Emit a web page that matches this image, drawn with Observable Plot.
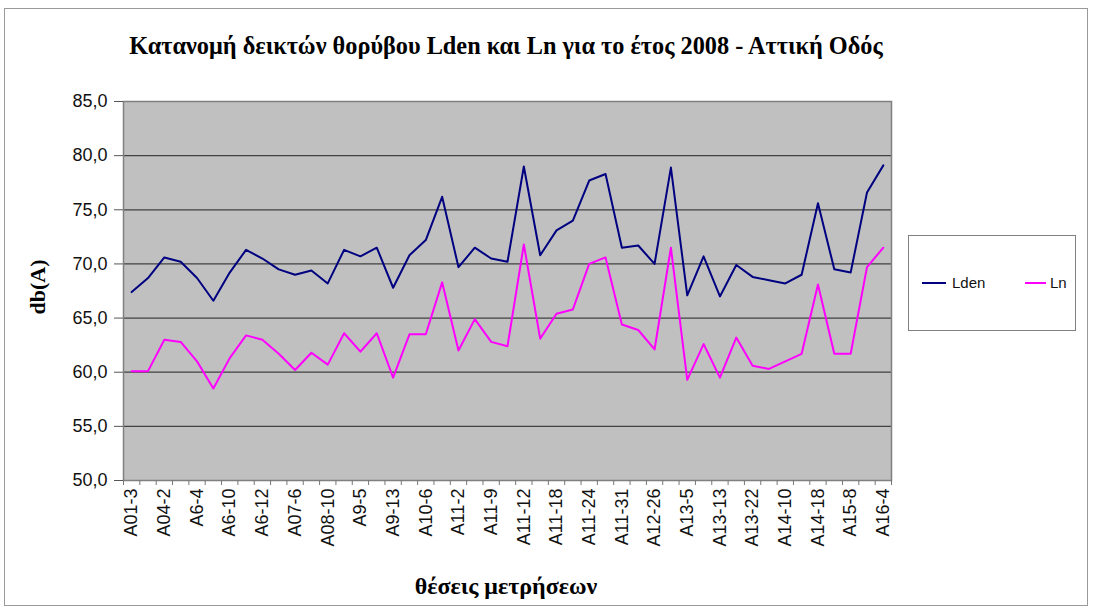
<!DOCTYPE html>
<html>
<head>
<meta charset="utf-8">
<script src="https://cdn.jsdelivr.net/npm/d3@7"></script>
<script src="https://cdn.jsdelivr.net/npm/@observablehq/plot@0.6"></script>
<style>
  html, body { margin: 0; padding: 0; background: #fff; }
  #wrap { position: relative; width: 1093px; height: 612px; overflow: hidden; }
  #chart { position: absolute; left: 0; top: 0; }
  #border { position: absolute; left: 4px; top: 8px; width: 1084px; height: 598px; border: 1px solid #9a9a9a; box-sizing: border-box; }
  .serif { font-family: "Liberation Serif", "Times New Roman", serif; font-weight: bold; color: #000; position: absolute; white-space: nowrap; }
  #title { left: 0; width: 1012px; top: 32px; text-align: center; font-size: 24.3px; }
  #ytitle { left: 38px; top: 287px; font-size: 22px; transform: translate(-50%, -50%) rotate(-90deg); }
  #xtitle { left: 0; width: 1012px; top: 573px; text-align: center; font-size: 24px; }
  #legend { position: absolute; left: 908px; top: 235px; }
</style>
</head>
<body>
<div id="wrap">
  <div id="border"></div>
  <div id="chart"></div>
  <div id="title" class="serif">Κατανομή δεικτών θορύβου Lden και Ln για το έτος 2008 - Αττική Οδός</div>
  <div id="ytitle" class="serif">db(A)</div>
  <div id="xtitle" class="serif">θέσεις μετρήσεων</div>
  <div id="legend"></div>
</div>
<script>
// Tick labels shown on the category axis (every second measurement position)
const siteLabels = ["A01-3", "A04-2", "A6-4", "A6-10", "A6-12", "A07-6", "A08-10", "A9-5", "A9-13", "A10-6", "A11-2", "A11-9",
  "A11-12", "A11-18", "A11-24", "A11-31", "A12-26", "A13-5", "A13-13", "A13-22", "A14-10", "A14-18", "A15-8", "A16-4"];

// Series values, one per measurement position (47 positions)
const lden = [67.4, 68.7, 70.6, 70.2, 68.7, 66.6, 69.2, 71.3, 70.5, 69.5, 69.0, 69.4,
  68.2, 71.3, 70.7, 71.5, 67.8, 70.8, 72.2, 76.2, 69.7, 71.5, 70.5, 70.2,
  79.0, 70.8, 73.1, 74.0, 77.7, 78.3, 71.5, 71.7, 70.0, 78.9, 67.1, 70.7,
  67.0, 69.9, 68.8, 68.5, 68.2, 69.0, 75.6, 69.5, 69.2, 76.6, 79.1];
const ln = [60.1, 60.1, 63.0, 62.8, 61.0, 58.5, 61.3, 63.4, 63.0, 61.7, 60.2, 61.8,
  60.7, 63.6, 61.9, 63.6, 59.5, 63.5, 63.5, 68.3, 62.0, 64.9, 62.8, 62.4,
  71.8, 63.1, 65.4, 65.8, 70.0, 70.6, 64.4, 63.9, 62.1, 71.5, 59.3, 62.6,
  59.5, 63.2, 60.6, 60.3, 61.0, 61.7, 68.1, 61.7, 61.7, 69.7, 71.5];

const seriesNames = ["Lden", "Ln"];
const seriesColors = ["#000080", "#ff00ff"];
const yTicks = [50, 55, 60, 65, 70, 75, 80, 85];

const n = lden.length;
const idx = d3.range(n);

const chart = Plot.plot({
  width: 1093,
  height: 612,
  marginLeft: 123,
  marginRight: 202,
  marginTop: 101,
  marginBottom: 132,
  style: { fontFamily: "'Liberation Sans', Arial, sans-serif", fontSize: "18px", color: "#000", background: "transparent" },
  x: { type: "linear", domain: [-0.5, n - 0.5], axis: null },
  y: { domain: [50, 85], axis: null },
  marks: [
    Plot.frame({ fill: "#c0c0c0", stroke: "none" }),
    Plot.gridY(yTicks.slice(1, -1), { stroke: "#222", strokeOpacity: 0.8, strokeWidth: 1.3 }),
    Plot.frame({ stroke: "#808080", strokeWidth: 1.5 }),
    Plot.axisY(yTicks, { tickSize: 9, tickPadding: 7, stroke: "#555", tickFormat: d => d.toFixed(1).replace(".", ","), fill: "#111" }),
    Plot.axisX(d3.range(-0.5, n, 1), { tickSize: 5, stroke: "#777", tickFormat: () => "" }),
    Plot.axisX(d3.range(0, n, 2), { tickSize: 0, tickPadding: 8, tickRotate: -90, tickFormat: i => siteLabels[i / 2], fill: "#111" }),
    Plot.lineY(lden, { x: idx, y: lden, stroke: seriesColors[0], strokeWidth: 2 }),
    Plot.lineY(ln, { x: idx, y: ln, stroke: seriesColors[1], strokeWidth: 2 })
  ]
});
document.getElementById("chart").appendChild(chart);

// Legend (SVG box)
const swX = [14, 117], swW = [24, 21], txX = [44, 142];
const svg = d3.select("#legend").append("svg").attr("width", 168).attr("height", 97);
svg.append("rect").attr("x", 0.5).attr("y", 0.5).attr("width", 167).attr("height", 95)
  .attr("fill", "#fff").attr("stroke", "#808080");
seriesNames.forEach((name, k) => {
  svg.append("line").attr("x1", swX[k]).attr("x2", swX[k] + swW[k]).attr("y1", 48).attr("y2", 48)
    .attr("stroke", seriesColors[k]).attr("stroke-width", 2);
  svg.append("text").attr("x", txX[k]).attr("y", 48).attr("dy", "0.35em")
    .attr("font-family", "'Liberation Sans', Arial, sans-serif").attr("font-size", 15).attr("fill", "#111")
    .text(name);
});
</script>
</body>
</html>
